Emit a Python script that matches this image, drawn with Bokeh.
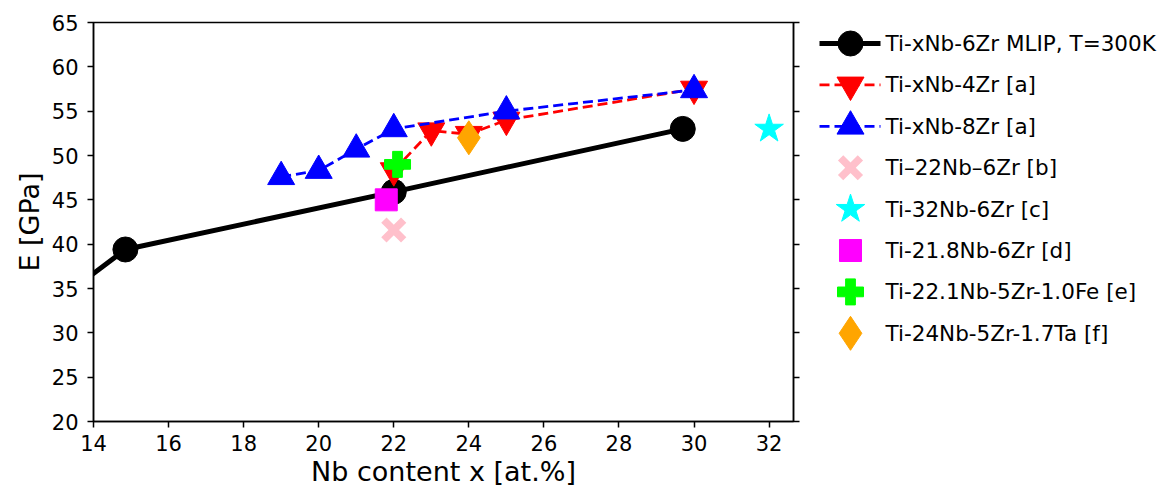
from bokeh.plotting import figure
from bokeh.models import Range1d, LinearAxis, FixedTicker
from bokeh.layouts import row
from bokeh.embed import file_html
from bokeh.resources import INLINE
from bokeh.core.properties import value

# ---------------- data ----------------
mlip_x = [12.0, 14.85, 22.0, 29.7]
mlip_E = [30.3, 39.4, 45.9, 53.0]

zr4_x = [22, 23, 24, 25, 30]
zr4_E = [48.3, 52.8, 52.4, 54.0, 57.5]

zr8_x = [19, 20, 21, 22, 25, 30]
zr8_E = [47.6, 48.3, 50.7, 53.0, 55.0, 57.4]

b_x, b_E = [22.0], [41.6]   # Ti-22Nb-6Zr [b]
c_x, c_E = [32.0], [53.0]   # Ti-32Nb-6Zr [c]
d_x, d_E = [21.8], [45.0]   # Ti-21.8Nb-6Zr [d]
e_x, e_E = [22.1], [49.0]   # Ti-22.1Nb-5Zr-1.0Fe [e]
f_x, f_E = [24.0], [52.0]   # Ti-24Nb-5Zr-1.7Ta [f]

x_ticks = [14, 16, 18, 20, 22, 24, 26, 28, 30, 32]
y_ticks = [20, 25, 30, 35, 40, 45, 50, 55, 60, 65]

legend_labels = [
    "Ti-xNb-6Zr MLIP, T=300K",
    "Ti-xNb-4Zr [a]",
    "Ti-xNb-8Zr [a]",
    "Ti\u201322Nb\u20136Zr [b]",
    "Ti-32Nb-6Zr [c]",
    "Ti-21.8Nb-6Zr [d]",
    "Ti-22.1Nb-5Zr-1.0Fe [e]",
    "Ti-24Nb-5Zr-1.7Ta [f]",
]

x_label = "Nb content x [at.%]"
y_label = "E [GPa]"

# ---------------- styles ----------------
FONT = "DejaVu Sans"
TICK_FS = "21px"
LABEL_FS = "27px"
LEG_FS = "21.5px"

styles = [
    dict(marker="circle", color="black", size=25, line=dict(line_color="black", line_width=5)),
    dict(marker="inverted_triangle", color="red", size=27, line=dict(line_color="red", line_width=2.8, line_dash="10 5")),
    dict(marker="triangle", color="blue", size=27, line=dict(line_color="blue", line_width=2.8, line_dash="10 5")),
    dict(marker="x", color="pink", size=28, line=None),
    dict(marker="star", color="cyan", size=30, line=None),
    dict(marker="square", color="magenta", size=22, line=None),
    dict(marker="plus", color="lime", size=26, line=None),
    dict(marker="diamond", color="orange", size=34, line=None),
]

series = [
    (mlip_x, mlip_E),
    (zr4_x, zr4_E),
    (zr8_x, zr8_E),
    (b_x, b_E),
    (c_x, c_E),
    (d_x, d_E),
    (e_x, e_E),
    (f_x, f_E),
]


def draw_marker(fig, xs, ys, st):
    if st["marker"] == "x":
        fig.scatter(xs, ys, marker="x", size=st["size"], line_color=st["color"],
                    line_width=7.5, fill_color=None)
    else:
        fig.scatter(xs, ys, marker=st["marker"], size=st["size"],
                    fill_color=st["color"], line_color=st["color"], line_width=1)


# ---------------- main plot ----------------
H = 492
TOP = 22
FRAME_H = 399
BOTTOM = H - TOP - FRAME_H
LEFT = 93
RIGHT = 12
FRAME_W = 700
MAIN_W = LEFT + FRAME_W + RIGHT

p = figure(width=MAIN_W, height=H,
           x_range=Range1d(14, 32.65), y_range=Range1d(20, 65),
           toolbar_location=None, output_backend="svg",
           min_border_left=LEFT, min_border_right=RIGHT,
           min_border_top=TOP, min_border_bottom=BOTTOM,
           background_fill_color="white", border_fill_color="white")
p.grid.visible = False
p.outline_line_color = "black"
p.outline_line_width = 1.5
p.outline_line_alpha = 1.0

for (xs, ys), st in zip(series, styles):
    if st["line"] is not None:
        p.line(xs, ys, **st["line"])
    draw_marker(p, xs, ys, st)

for ax, ticks in ((p.xaxis[0], x_ticks), (p.yaxis[0], y_ticks)):
    ax.ticker = FixedTicker(ticks=ticks)
    ax.minor_tick_line_color = None
    ax.major_tick_in = 0
    ax.major_tick_out = 6
    ax.major_tick_line_width = 1.5
    ax.major_tick_line_color = "black"
    ax.axis_line_width = 1.5
    ax.axis_line_color = "black"
    ax.major_label_text_font = FONT
    ax.major_label_text_font_size = TICK_FS
    ax.major_label_text_color = "black"
    ax.axis_label_text_font = FONT
    ax.axis_label_text_font_size = LABEL_FS
    ax.axis_label_text_font_style = "normal"
    ax.axis_label_text_color = "black"

p.xaxis[0].axis_label = x_label
p.yaxis[0].axis_label = y_label
p.xaxis[0].major_label_standoff = 7
p.xaxis[0].axis_label_standoff = 2
p.yaxis[0].major_label_standoff = 9
p.yaxis[0].axis_label_standoff = 4

right_ax = LinearAxis(ticker=FixedTicker(ticks=y_ticks))
right_ax.minor_tick_line_color = None
right_ax.major_tick_in = 0
right_ax.major_tick_out = 6
right_ax.major_tick_line_width = 1.5
right_ax.axis_line_width = 1.5
right_ax.major_label_text_color = None
right_ax.major_label_text_font_size = "1px"
right_ax.major_label_standoff = 0
p.add_layout(right_ax, "right")

# ---------------- legend panel ----------------
LW = 1162 - MAIN_W
FRAME_TOP = TOP
FRAME_BOT = TOP + FRAME_H
lg = figure(width=LW, height=H, x_range=Range1d(0, LW),
            y_range=Range1d(FRAME_BOT, FRAME_TOP),
            toolbar_location=None, output_backend="svg",
            min_border_left=0, min_border_right=0,
            min_border_top=TOP, min_border_bottom=BOTTOM,
            x_axis_type=None, y_axis_type=None, outline_line_color=None,
            background_fill_color="white", border_fill_color="white")
lg.grid.visible = False

row0 = 43.0
pitch = 41.4
handle_x0, handle_x1, mark_x, text_x = 14, 75, 45, 80
for i, st in enumerate(styles):
    yy = row0 + pitch * i
    if st["line"] is not None:
        lg.line([handle_x0, handle_x1], [yy, yy], **st["line"])
    draw_marker(lg, [mark_x], [yy], st)

lg.text(x=[text_x] * len(legend_labels),
        y=[row0 + pitch * i for i in range(len(legend_labels))],
        text=legend_labels, text_font=value(FONT), text_font_size=LEG_FS,
        text_baseline="middle", text_align="left", text_color="black")

layout = row(p, lg)
open("out.html", "w").write(file_html(layout, INLINE))
